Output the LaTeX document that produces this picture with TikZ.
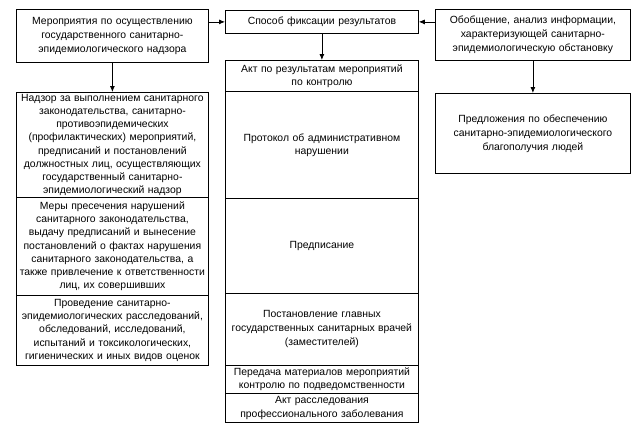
\documentclass[tikz,border=0pt]{standalone}
\usepackage{fontspec}
\setmainfont{Liberation Sans}
\usetikzlibrary{arrows.meta}
\begin{document}
\begin{tikzpicture}[x=1pt,y=-1pt,
  box/.style={draw, line width=0.8pt, inner sep=0pt, align=center, anchor=north west,
    font=\fontsize{10.4}{13.2}\selectfont},
  arr/.style={line width=0.8pt, -{Latex[length=6pt,width=5pt]}}]
\useasboundingbox (0,0) rectangle (642,437);
% top row
\node[box, minimum width=192, minimum height=53, text width=190, font=\fontsize{10.4}{14}\selectfont] (l0) at (16,9)
 {Мероприятия по осуществлению\\государственного санитарно-\\эпидемиологического надзора};
\node[box, minimum width=193, minimum height=23, text width=191] (s) at (225,10)
 {Способ фиксации результатов};
\node[box, minimum width=195, minimum height=51, text width=193, font=\fontsize{10.4}{14}\selectfont] (r0) at (435,9)
 {Обобщение, анализ информации,\\характеризующей санитарно-\\эпидемиологическую обстановку};
% left column
\node[box, minimum width=192, minimum height=105, text width=190] (a1) at (16,92)
 {Надзор за выполнением санитарного\\законодательства, санитарно-\\противоэпидемических\\(профилактических) мероприятий,\\предписаний и постановлений\\должностных лиц, осуществляющих\\государственный санитарно-\\эпидемиологический надзор};
\node[box, minimum width=192, minimum height=98, text width=190] (a2) at (16,197)
 {Меры пресечения нарушений\\санитарного законодательства,\\выдачу предписаний и вынесение\\постановлений о фактах нарушения\\санитарного законодательства, а\\также привлечение к ответственности\\лиц, их совершивших};
\node[box, minimum width=192, minimum height=70, text width=190] (a3) at (16,295)
 {Проведение санитарно-\\эпидемиологических расследований,\\обследований, исследований,\\испытаний и токсикологических,\\гигиенических и иных видов оценок};
% center column
\node[box, minimum width=193, minimum height=31, text width=191] (c1) at (225,60)
 {Акт по результатам мероприятий\\по контролю};
\node[box, minimum width=193, minimum height=107, text width=191] (c2) at (225,91)
 {Протокол об административном\\нарушении};
\node[box, minimum width=193, minimum height=95, text width=191] (c3) at (225,198)
 {Предписание};
\node[box, minimum width=193, minimum height=72, text width=191, font=\fontsize{10.4}{14}\selectfont] (c4) at (225,293)
 {Постановление главных\\государственных санитарных врачей\\(заместителей)};
\node[box, minimum width=193, minimum height=28, text width=191] (c5) at (225,365)
 {Передача материалов мероприятий\\контролю по подведомственности};
\node[box, minimum width=193, minimum height=29, text width=191] (c6) at (225,393)
 {Акт расследования\\профессионального заболевания};
% right column
\node[box, minimum width=195, minimum height=80, text width=193, font=\fontsize{10.4}{14}\selectfont] (r1) at (435,93)
 {Предложения по обеспечению\\санитарно-эпидемиологического\\благополучия людей};
% connectors
\draw[arr] (l0.south -| a1.north) -- (a1.north);
\draw[arr] (l0.east |- s.west) -- (s.west);
\draw[arr] (r0.west |- s.east) -- (s.east);
\draw[arr] (s.south) -- (c1.north);
\draw[arr] (r0.south) -- (r1.north);
\end{tikzpicture}
\end{document}
